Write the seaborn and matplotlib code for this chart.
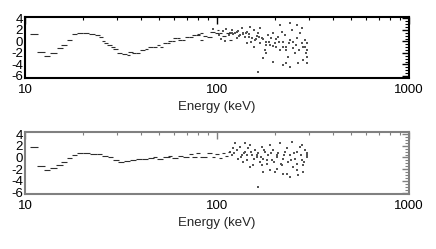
import numpy as np
import pandas as pd
import seaborn as sns
import matplotlib
matplotlib.use('Agg')
import matplotlib.pyplot as plt
from matplotlib.ticker import MultipleLocator, FixedLocator, FixedFormatter, LogLocator, NullFormatter

# ---------------- Panel 1 data ----------------
p1_seg_lo = [10.6, 11.55, 12.6, 13.5, 14.7, 15.4, 16.6, 17.6, 18.7, 20.0, 21.6, 23.2, 24.3, 25.2, 25.8,
             26.7, 28.0, 28.7, 30.1, 32.0, 34.0, 34.4, 36.1, 37.9, 39.7, 42.2, 43.7, 46.4, 48.7, 50.5,
             52.3, 54.9, 55.6, 58.3, 59.0, 61.9, 62.7, 65.7, 68.1, 71.5, 74.1, 77.7, 78.7, 81.5, 81.5,
             84.6, 88.7, 91.9, 97.6, 102.4, 99.5, 106.1, 111.4, 115.0]
p1_seg_hi = [11.7, 12.7, 13.5, 14.7, 15.8, 16.6, 17.6, 18.7, 20.0, 21.6, 23.2, 24.6, 25.5, 26.1, 27.0,
             28.4, 29.4, 30.5, 32.0, 34.0, 35.2, 36.5, 37.9, 39.7, 42.2, 43.7, 46.4, 48.7, 50.5, 52.3,
             54.9, 56.9, 58.3, 60.4, 61.9, 64.2, 65.7, 68.1, 71.5, 75.0, 77.7, 81.5, 81.5, 84.6, 84.6,
             88.7, 94.2, 97.6, 102.4, 106.1, 102.4, 111.4, 116.9, 119.0]
p1_seg_val = [1.27, -1.91, -2.53, -2.04, -1.20, -0.58, 0.30, 1.27, 1.54, 1.41, 1.32, 1.14, 0.75, 0.15, -0.18,
              -0.58, -1.03, -1.33, -2.04, -2.09, -2.35, -1.87, -2.04, -2.04, -1.56, -1.33, -0.98, -0.98, -0.58, -0.89,
              -0.32, -0.32, 0.15, 0.15, 0.57, 0.57, 0.30, 0.30, 0.83, 0.83, 1.14, 1.14, 1.32, 0.30, 1.54,
              1.01, 0.83, 1.72, 1.41, 1.41, 2.03, 0.92, 1.45, 0.21]

p1_dot_e = [119, 124, 129, 132, 137, 140, 143, 146, 149, 152, 155, 158, 161, 164, 168, 171, 174, 178, 181, 185,
            189, 192, 196, 200, 204, 208, 213, 217, 221, 226, 230, 235, 240, 245, 250, 255, 260, 265, 270, 276,
            281, 287, 293, 119, 127, 135, 143, 155, 168, 181, 196, 213, 230, 240, 260, 276, 287, 293, 164, 240,
            221, 293, 95, 103, 108, 112, 115, 105, 110,
            116.9, 121.7, 126.6, 130.7, 136.0, 141.7, 147.4, 150.4, 159.7, 166.2, 173.0, 180.0, 187.4, 195.0,
            202.9, 211.2, 219.9, 228.8, 238.1, 247.8, 258.0, 268.5, 279.4, 290.8, 295.0]
p1_dot_val = [1.54, 1.45, 1.90, 1.14, 1.45, 0.83, 1.72, 1.32, 2.60, 0.57, 2.03, 0.30, 0.97, 1.45, -0.32, 0.57, -2.88, -1.47, -0.01, 1.14,
              -0.58, 0.57, 1.54, -0.32, -1.03, 0.83, -1.47, 1.72, -0.01, 1.14, -0.89, -2.62, 0.30, 2.03, -1.20, -2.04, 0.57, -3.77, 1.45, -0.32,
              -3.24, 0.30, -1.47, 2.03, 0.57, 2.34, -0.32, -0.89, 2.34, -2.04, -3.50, 2.87, -3.77, 3.18, 2.87, 2.34, -0.89, -0.32, -5.27, -4.39,
              -4.08, -3.77, 2.16, 1.10, 1.81, 2.16, 1.19, 0.39, 0.13,
              1.53, 1.30, 1.70, 0.95, 1.30, 1.53, 0.72, -0.03, 0.37, 0.84, 0.37, -0.61, -0.03, -0.79,
              0.37, -0.03, -0.90, -1.48, -0.32, -0.03, -0.61, -1.48, -0.90, -2.06, -2.64]

# ---------------- Panel 2 data ----------------
p2_seg_lo = [10.6, 11.55, 12.6, 13.5, 14.5, 15.4, 16.6, 17.6, 18.7, 20.0, 21.8, 23.7, 25.2, 27.0, 28.7,
             30.5, 32.8, 35.2, 37.9, 40.5, 43.7, 46.4, 48.7, 52.3, 55.6, 58.3, 62.7, 66.9, 71.5, 74.1,
             77.7, 81.5, 88.7, 94.2, 98.0, 102.0, 106.0, 110.0, 114.0]
p2_seg_hi = [11.7, 12.7, 13.5, 14.7, 15.8, 16.6, 17.6, 18.7, 20.0, 21.8, 23.7, 25.2, 27.0, 28.7, 31.0,
             32.8, 35.2, 37.9, 40.5, 43.7, 47.0, 48.7, 52.3, 56.6, 58.3, 62.7, 66.9, 71.5, 75.0, 78.7,
             81.5, 88.7, 94.2, 98.0, 102.0, 106.0, 110.0, 114.0, 117.0]
p2_seg_val = [1.74, -1.49, -2.07, -1.80, -1.36, -0.74, -0.16, 0.41, 0.81, 0.68, 0.59, 0.54, 0.28, 0.01, -0.47,
              -0.74, -0.56, -0.47, -0.30, -0.34, -0.12, 0.01, -0.30, 0.01, 0.28, -0.12, 0.28, 0.15, 0.54, 0.15,
              0.68, 0.06, 0.68, 0.15, 0.59, -0.03, 0.68, 0.23, 0.94]

p2_dot_e = [121.7, 126.6, 131.8, 134.5, 140.0, 142.8, 145.7, 148.6, 151.6, 154.7, 157.8, 161.0, 164.3, 167.6, 171.0,
            174.4, 177.9, 181.5, 185.2, 188.9, 192.7, 196.6, 200.6, 204.7, 208.8, 213.0, 217.3, 221.7, 226.2, 230.8,
            235.4, 240.2, 245.0, 250.0, 255.0, 260.2, 265.4, 270.8, 276.2, 281.8, 287.5, 293.3, 119.2, 129.2, 137.2,
            148.6, 174.4, 188.9, 204.7, 221.7, 240.2, 260.2, 281.8, 295.0, 164.3, 124.1, 276.2, 140.0, 171.0,
            116.9, 122.7, 127.6, 132.9, 138.3, 143.9, 149.8, 155.9, 162.3, 168.8, 175.7, 182.9, 190.3, 198.1,
            206.2, 214.6, 223.4, 232.5, 242.0, 251.8, 262.1, 272.8, 284.0, 295.5]
p2_dot_val = [1.55, 1.25, 1.83, 0.39, 0.97, -0.47, 1.55, 2.12, 0.39, -1.33, 1.25, 0.11, 0.69, -0.76, 1.83,
              -0.18, 0.97, -1.04, 0.39, 2.12, -0.47, 1.25, -2.48, 0.11, 0.69, 2.41, -1.33, -0.18, 0.97, -2.77,
              -0.76, 0.39, 2.70, -1.62, -0.18, 0.97, -3.05, 1.83, -0.47, -1.33, 1.25, 0.11, 0.39, -0.18, -0.76,
              -1.62, -2.48, -2.19, -1.90, -2.77, -3.34, -2.19, -2.48, 0.39, -5.06, 2.41, 2.12, 2.41, -1.33,
              0.97, 0.68, 1.26, 0.11, 0.68, 0.39, 0.97, -0.18, 0.39, 0.11, 1.26, -0.47, 0.68, -0.76,
              0.39, -1.04, 0.39, 1.54, -0.47, 0.68, -1.04, 0.39, -0.76, 0.68]

x_ticks = [10, 100, 1000]
x_tick_labels = ['10', '100', '1000']
y_ticks = [4, 2, 0, -2, -4, -6]
y_tick_labels = ['4', '2', '0', '-2', '-4', '-6']
x_label = 'Energy (keV)'

sns.set_style('white')
plt.rcParams['font.family'] = ['Liberation Sans', 'DejaVu Sans']

fig = plt.figure(figsize=(4.36, 2.49), dpi=100)
W, H = 436, 249
ax1 = fig.add_axes([25 / W, 1 - 78 / H, 384 / W, 61 / H])
ax2 = fig.add_axes([25 / W, 1 - 194 / H, 384 / W, 61.7 / H])


def draw(ax, lo, hi, val, de, dv, frame_color, ylim):
    ax.hlines(val, lo, hi, colors='#2e2e2e', linewidth=0.8)
    df = pd.DataFrame({'e': de, 'v': dv})
    sns.scatterplot(data=df, x='e', y='v', ax=ax, marker='s', s=1.3, color='#555555',
                    linewidth=0, legend=False)
    ax.set_xscale('log')
    ax.set_xlim(10, 1000)
    ax.set_ylim(*ylim)
    ax.xaxis.set_major_locator(FixedLocator(x_ticks))
    ax.xaxis.set_major_formatter(FixedFormatter(x_tick_labels))
    ax.xaxis.set_minor_locator(LogLocator(base=10, subs=range(2, 10)))
    ax.xaxis.set_minor_formatter(NullFormatter())
    ax.yaxis.set_major_locator(FixedLocator(y_ticks))
    ax.yaxis.set_major_formatter(FixedFormatter(y_tick_labels))
    ax.yaxis.set_minor_locator(MultipleLocator(0.5))
    ax.tick_params(axis='both', which='both', direction='in', top=True, right=True,
                   color=frame_color, labelcolor='black', labelsize=9.5)
    ax.tick_params(axis='x', which='major', length=5, width=1, pad=4.5)
    ax.tick_params(axis='x', which='minor', length=2.5, width=0.8)
    ax.tick_params(axis='y', which='major', length=5, width=1, pad=1.5)
    ax.tick_params(axis='y', which='minor', length=3, width=0.8)
    for s in ax.spines.values():
        s.set_color(frame_color)
        s.set_linewidth(1.5)
    ax.set_xlabel(x_label, fontsize=9.5, labelpad=3.5)
    ax.set_ylabel('')
    ax.set_facecolor('white')


draw(ax1, p1_seg_lo, p1_seg_hi, p1_seg_val, p1_dot_e, p1_dot_val, 'black', (-6.35, 4.26))
draw(ax2, p2_seg_lo, p2_seg_hi, p2_seg_val, p2_dot_e, p2_dot_val, '#808080', (-6.25, 4.3))

fig.savefig('out.png', dpi=100)
